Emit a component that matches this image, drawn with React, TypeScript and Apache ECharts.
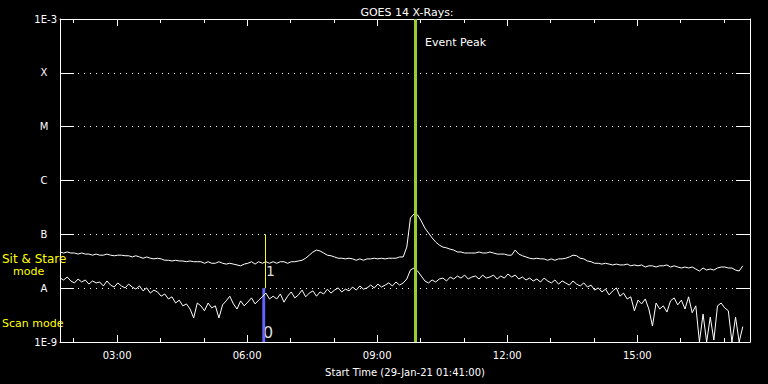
import React, { useEffect, useRef } from "react";
import * as echarts from "echarts";

// Time axis in minutes after midnight (29-Jan-21), samples every 5 minutes from 01:41
const START_MIN = 101;
const STEP_MIN = 5;
const X_MAX_MIN = 1056;
const EVENT_PEAK_MIN = 592;
const SCAN_START_MIN = 381;
const SCAN_END_MIN = 385;

// GOES 14 long channel (1-8 Å), in units of 1e-9 W/m²
const longChannel = [
  47, 45, 47, 45, 45, 43, 45, 43, 43, 41,
  43, 41, 41, 43, 41, 40, 41, 41, 40, 40,
  38, 40, 38, 36, 38, 36, 35, 36, 35, 33,
  33, 32, 33, 32, 32, 31, 32, 31, 31, 31,
  29, 31, 29, 29, 31, 29, 28, 29, 28, 27,
  26, 28, 29, 31, 28, 31, 29, 31, 29, 31,
  29, 31, 31, 29, 31, 31, 32, 33, 36, 41,
  47, 51, 49, 45, 41, 40, 38, 36, 36, 35,
  36, 35, 33, 35, 33, 35, 35, 36, 35, 36,
  35, 36, 36, 36, 38, 38, 58, 201, 239, 229,
  177, 131, 106, 86, 72, 63, 58, 56, 53, 51,
  47, 47, 45, 45, 45, 45, 47, 45, 45, 47,
  45, 43, 43, 43, 41, 41, 51, 43, 40, 38,
  36, 35, 36, 35, 35, 33, 35, 33, 35, 35,
  36, 38, 41, 40, 36, 35, 32, 31, 29, 29,
  28, 29, 28, 27, 28, 27, 27, 28, 26, 27,
  26, 27, 24.7, 26, 26, 24.7, 26, 26, 27, 24.7,
  26, 24.7, 23.7, 24.7, 23.7, 24.7, 22.7, 20.8, 23.7, 21.7,
  22.7, 21.7, 23.7, 24.7, 24.7, 23.7, 23.7, 21.7, 20.8, 26,
];

// GOES 14 short channel (0.5-4 Å), in units of 1e-9 W/m²
const shortChannel = [
  15.4, 14.2, 16.1, 13.6, 12.5, 14.8, 13.0, 14.2, 11.9, 13.6,
  12.5, 13.0, 11.0, 13.6, 11.4, 10.5, 12.5, 11.0, 10.1, 11.9,
  10.5, 9.6, 11.0, 8.9, 10.1, 8.1, 9.2, 8.5, 7.1, 7.8,
  6.3, 6.9, 5.3, 6.0, 4.7, 5.1, 4.1, 2.8, 5.3, 4.7,
  3.8, 5.3, 4.3, 4.7, 2.8, 4.9, 5.8, 7.1, 5.1, 4.1,
  5.8, 4.7, 5.5, 6.6, 5.1, 6.0, 6.9, 8.1, 6.3, 7.1,
  6.3, 7.8, 5.5, 7.1, 8.5, 6.6, 7.5, 9.2, 6.9, 8.1,
  8.9, 7.1, 8.5, 7.8, 9.6, 8.1, 9.2, 10.1, 8.5, 9.6,
  8.9, 10.5, 9.2, 11.0, 9.6, 10.1, 11.4, 10.1, 11.9, 10.5,
  11.4, 12.5, 11.0, 13.0, 11.4, 12.5, 14.8, 21.7, 23.7, 20.8,
  16.8, 13.6, 12.5, 14.2, 13.0, 14.8, 15.4, 13.6, 16.1, 14.8,
  16.8, 15.4, 17.5, 14.8, 16.1, 16.8, 14.8, 17.5, 15.4, 16.1,
  17.5, 14.8, 16.8, 15.4, 18.3, 16.1, 17.5, 14.8, 16.1, 14.2,
  15.4, 13.6, 14.8, 13.0, 15.4, 13.6, 12.5, 14.2, 11.9, 13.6,
  12.5, 11.4, 13.6, 11.9, 11.0, 12.5, 10.5, 11.4, 9.2, 10.1,
  8.5, 9.6, 7.5, 8.9, 10.1, 7.1, 8.1, 6.3, 6.9, 3.8,
  6.0, 5.1, 6.3, 4.1, 1.98, 5.3, 4.1, 4.7, 3.6, 5.8,
  6.6, 4.9, 6.0, 4.1, 6.9, 3.5, 4.7, 1.0, 3.3, 1.0,
  2.9, 1.09, 4.7, 5.3, 4.3, 3.8, 1.0, 2.9, 1.0, 1.93,
];

const yTickLabels = ["1E-9", "A", "B", "C", "M", "X", "1E-3"];
const xLabelMinutes = [180, 360, 540, 720, 900];
const xMinorMinutes = [120, 240, 300, 420, 480, 600, 660, 780, 840, 960, 1020];

const FONT = "DejaVu Sans";
const WHITE = "#ffffff";

function toPairs(vals: number[]) {
  return vals.map((v, i) => [START_MIN + i * STEP_MIN, v * 1e-9]);
}

function hhmm(m: number) {
  const h = Math.floor(m / 60);
  const mm = Math.round(m % 60);
  return String(h).padStart(2, "0") + ":" + String(mm).padStart(2, "0");
}

export default function App() {
  const ref = useRef<HTMLDivElement>(null);

  useEffect(() => {
    document.body.style.margin = "0";
    document.body.style.background = "#000";
    if (!ref.current) return;
    const chart = echarts.init(ref.current, undefined, { renderer: "svg" });

    const xBase = {
      type: "value",
      min: START_MIN,
      max: X_MAX_MIN,
      splitLine: { show: false },
    };

    const option: any = {
      animation: false,
      backgroundColor: "#000",
      title: {
        text: "GOES 14 X-Rays:",
        left: 402,
        textAlign: "center",
        top: 2,
        textStyle: { color: WHITE, fontFamily: FONT, fontSize: 11, fontWeight: "normal" },
      },
      grid: { left: 60, right: 18, top: 19, bottom: 42 },
      xAxis: [
        {
          ...xBase,
          position: "bottom",
          axisLine: { show: true, lineStyle: { color: WHITE, width: 1 } },
          axisTick: {
            show: true,
            inside: true,
            length: 7,
            customValues: xLabelMinutes,
            lineStyle: { color: WHITE },
          },
          axisLabel: {
            show: true,
            customValues: xLabelMinutes,
            formatter: (v: number) => hhmm(v),
            color: WHITE,
            fontFamily: FONT,
            fontSize: 10,
            margin: 8,
          },
          name: "Start Time (29-Jan-21 01:41:00)",
          nameLocation: "middle",
          nameGap: 25,
          nameTextStyle: { color: WHITE, fontFamily: FONT, fontSize: 10 },
        },
        {
          ...xBase,
          position: "bottom",
          axisLine: { show: false },
          axisTick: {
            show: true,
            inside: true,
            length: 4,
            customValues: xMinorMinutes,
            lineStyle: { color: WHITE },
          },
          axisLabel: { show: false },
        },
        {
          ...xBase,
          position: "top",
          axisLine: { show: true, lineStyle: { color: WHITE, width: 1 } },
          axisTick: {
            show: true,
            inside: true,
            length: 7,
            customValues: xLabelMinutes,
            lineStyle: { color: WHITE },
          },
          axisLabel: { show: false },
        },
        {
          ...xBase,
          position: "top",
          axisLine: { show: false },
          axisTick: {
            show: true,
            inside: true,
            length: 4,
            customValues: xMinorMinutes,
            lineStyle: { color: WHITE },
          },
          axisLabel: { show: false },
        },
      ],
      yAxis: [
        {
          type: "log",
          logBase: 10,
          min: 1e-9,
          max: 1e-3,
          splitNumber: 6,
          position: "left",
          axisLine: { show: true, lineStyle: { color: WHITE, width: 1 } },
          axisTick: { show: true, inside: true, length: 14, lineStyle: { color: WHITE } },
          minorTick: { show: false },
          splitLine: {
            show: true,
            lineStyle: { color: WHITE, type: [1, 5], width: 1 },
          },
          axisLabel: {
            color: WHITE,
            fontFamily: FONT,
            fontSize: 10,
            margin: 3,
            verticalAlignMaxLabel: "top",
            formatter: (v: number) => {
              const k = Math.round(Math.log10(v)) + 9;
              const s = yTickLabels[k] ?? "";
              return s.length === 1 ? "{c|" + s + "}" : s;
            },
            rich: {
              c: { width: 26, align: "center", color: WHITE, fontFamily: FONT, fontSize: 10 },
            },
          },
        },
        {
          type: "log",
          logBase: 10,
          min: 1e-9,
          max: 1e-3,
          splitNumber: 6,
          position: "right",
          axisLine: { show: true, lineStyle: { color: WHITE, width: 1 } },
          axisTick: { show: true, inside: true, length: 14, lineStyle: { color: WHITE } },
          minorTick: { show: false },
          splitLine: { show: false },
          axisLabel: { show: false },
        },
      ],
      series: [
        {
          name: "0.5-4.0 A",
          type: "line",
          xAxisIndex: 0,
          yAxisIndex: 0,
          data: toPairs(shortChannel),
          showSymbol: false,
          symbol: "none",
          lineStyle: { color: WHITE, width: 1 },
          clip: true,
          z: 3,
          markArea: {
            silent: true,
            itemStyle: { color: "#6464ff", opacity: 1 },
            data: [
              [
                { xAxis: SCAN_START_MIN, yAxis: 1e-9 },
                { xAxis: SCAN_END_MIN, yAxis: 1e-8 },
              ],
            ],
          },
        },
        {
          name: "1.0-8.0 A",
          type: "line",
          xAxisIndex: 0,
          yAxisIndex: 0,
          data: toPairs(longChannel),
          showSymbol: false,
          symbol: "none",
          lineStyle: { color: WHITE, width: 1 },
          clip: true,
          z: 3,
          markLine: {
            silent: true,
            symbol: "none",
            label: { show: false },
            data: [
              {
                xAxis: EVENT_PEAK_MIN,
                lineStyle: { color: "#9acd32", width: 3, type: "solid" },
              },
              [
                { coord: [SCAN_END_MIN, 1e-8], lineStyle: { color: "#ffff00", width: 1, type: "solid" } },
                { coord: [SCAN_END_MIN, 1e-7] },
              ],
            ],
          },
        },
      ],
      graphic: [
        {
          type: "text",
          left: 425,
          top: 37,
          style: { text: "Event Peak", fill: WHITE, font: `11px "${FONT}"` },
        },
        {
          type: "text",
          left: 2,
          top: 253,
          style: { text: "Sit & Stare", fill: "#ffff00", font: `12px "${FONT}"` },
        },
        {
          type: "text",
          left: 13,
          top: 266,
          style: { text: "mode", fill: "#ffff00", font: `11px "${FONT}"` },
        },
        {
          type: "text",
          left: 2,
          top: 318,
          style: { text: "Scan mode", fill: "#ffff00", font: `11px "${FONT}"` },
        },
        {
          type: "text",
          left: 266,
          top: 264,
          style: { text: "1", fill: "#dddddd", font: `14px "${FONT}"` },
        },
        {
          type: "text",
          left: 263,
          top: 324,
          style: { text: "0", fill: "#dddddd", font: `16px "${FONT}"` },
        },
      ],
    };

    chart.setOption(option);
    return () => chart.dispose();
  }, []);

  return <div ref={ref} style={{ width: 768, height: 384 }} />;
}
